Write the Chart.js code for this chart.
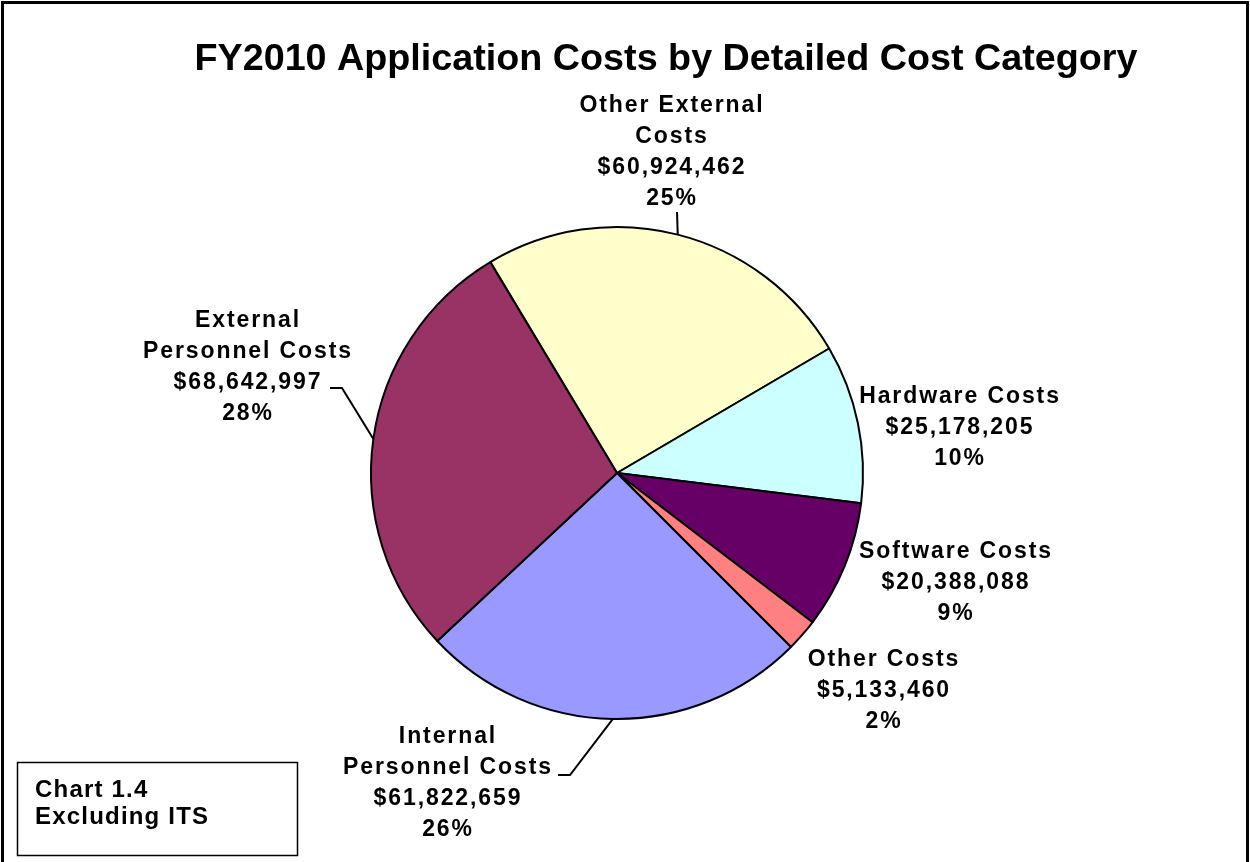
<!DOCTYPE html>
<html>
<head>
<meta charset="utf-8">
<title>FY2010 Application Costs by Detailed Cost Category</title>
<script src="https://cdn.jsdelivr.net/npm/chart.js@4.4.0/dist/chart.umd.min.js"></script>
<style>
  html, body { margin: 0; padding: 0; background: #fff; }
  #chart { display: block; }
</style>
</head>
<body>
<canvas id="chart" width="1250" height="862"></canvas>
<script>
var categories = [['Other External', 'Costs'], ['Hardware Costs'], ['Software Costs'], ['Other Costs'], ['Internal', 'Personnel Costs'], ['External', 'Personnel Costs']];
var costs = [60924462, 25178205, 20388088, 5133460, 61822659, 68642997];
var percentLabels = ['25%', '10%', '9%', '2%', '26%', '28%'];

(function () {

    'use strict';

    var titleText = 'FY2010 Application Costs by Detailed Cost Category';
    var sliceColors = ['#FFFFCC', '#CCFFFF', '#660066', '#FF8080', '#9999FF', '#993366'];

    // label block: centre x, baseline of the first line
    var labelPos = [[672, 112], [960, 403], [956, 558], [884, 666], [448, 743], [248, 327]];
    // leader lines start at the label (and bend once) then run to the slice edge
    var leaders = [
        {from: [677, 212]},
        null,
        null,
        null,
        {from: [558, 775], elbow: [570, 775]},
        {from: [330, 388], elbow: [342, 388]}
    ];

    var labelFont = 'bold 23px "Liberation Sans", Arial, sans-serif';
    var lineStep = 31;

    function money(v) {
        return '$' + v.toLocaleString('en-US');
    }

    var decorations = {
        id: 'decorations',
        afterDraw: function (chart) {
            var ctx = chart.ctx;
            var arcs = chart.getDatasetMeta(0).data;

            ctx.save();

            // outer frame
            ctx.strokeStyle = '#000';
            ctx.lineWidth = 3;
            ctx.beginPath();
            ctx.moveTo(2.5, 862);
            ctx.lineTo(2.5, 2.5);
            ctx.lineTo(1247.5, 2.5);
            ctx.lineTo(1247.5, 862);
            ctx.stroke();

            // title, squeezed to the width it has in the original
            ctx.fillStyle = '#000';
            ctx.font = 'bold 37px "Liberation Sans", Arial, sans-serif';
            ctx.textAlign = 'center';
            ctx.textBaseline = 'alphabetic';
            var tw = ctx.measureText(titleText).width;
            ctx.save();
            ctx.translate(666, 70);
            ctx.scale(943 / tw, 1);
            ctx.fillText(titleText, 0, 0);
            ctx.restore();

            // leader lines
            ctx.lineWidth = 2;
            for (var i = 0; i < arcs.length; i++) {
                if (!leaders[i]) continue;
                var p = arcs[i].getProps(['x', 'y', 'startAngle', 'endAngle', 'outerRadius'], true);
                var mid = (p.startAngle + p.endAngle) / 2;
                var ex = p.x + Math.cos(mid) * p.outerRadius;
                var ey = p.y + Math.sin(mid) * p.outerRadius;
                ctx.beginPath();
                ctx.moveTo(leaders[i].from[0], leaders[i].from[1]);
                if (leaders[i].elbow) ctx.lineTo(leaders[i].elbow[0], leaders[i].elbow[1]);
                ctx.lineTo(ex, ey);
                ctx.stroke();
            }

            // data labels
            ctx.font = labelFont;
            ctx.letterSpacing = '1.9px';
            for (var j = 0; j < costs.length; j++) {
                var lines = categories[j].concat([money(costs[j]), percentLabels[j]]);
                for (var k = 0; k < lines.length; k++) {
                    ctx.fillText(lines[k], labelPos[j][0], labelPos[j][1] + k * lineStep);
                }
            }

            // note box
            ctx.lineWidth = 1.5;
            ctx.strokeRect(17.5, 762.5, 280, 93);
            ctx.textAlign = 'left';
            ctx.letterSpacing = '1.2px';
            ctx.font = 'bold 24px "Liberation Sans", Arial, sans-serif';
            ctx.fillText('Chart 1.4', 35, 797);
            ctx.fillText('Excluding ITS', 35, 824);

            ctx.restore();
        }
    };

    var ctx = document.getElementById('chart').getContext('2d');

    var myChart = new Chart(ctx, {
        type: 'pie',
        data: {
            labels: categories,
            datasets: [{
                data: costs,
                backgroundColor: sliceColors,
                borderColor: '#000',
                borderWidth: 2
            }]
        },
        options: {
            responsive: false,
            animation: false,
            devicePixelRatio: 1,
            rotation: -31,
            radius: 246,
            layout: {
                padding: {left: 371, right: 387, top: 227, bottom: 143}
            },
            plugins: {
                legend: {display: false},
                tooltip: {enabled: false},
                title: {display: false}
            }
        },
        plugins: [decorations]
    });

})();
</script>
</body>
</html>
